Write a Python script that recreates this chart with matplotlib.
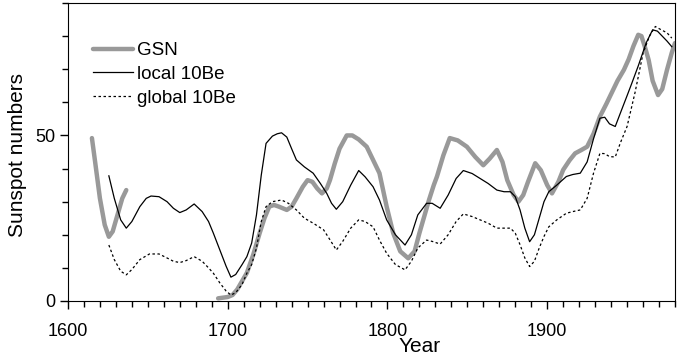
import matplotlib.pyplot as plt
from matplotlib.ticker import MultipleLocator

plt.rcParams['font.family'] = ['Liberation Sans', 'DejaVu Sans']

# GSN (group sunspot number), two segments with a gap
gsn_year_a = [1615, 1617, 1620, 1623, 1625.6, 1628, 1631, 1634, 1636.5]
gsn_val_a = [49.2, 42, 31, 23, 19.4, 21, 26, 31, 33.5]
gsn_year_b = [1694, 1700, 1703, 1706, 1709, 1712, 1716, 1720, 1723, 1726, 1729, 1732,
              1737, 1740, 1743, 1747, 1750, 1753, 1756, 1759, 1762, 1764, 1767, 1770,
              1774.5, 1778, 1782, 1787, 1791, 1795, 1799.5, 1803.6, 1808, 1813, 1817,
              1820, 1823, 1826, 1829, 1831, 1835, 1839, 1844, 1849.7, 1855, 1860,
              1864, 1868.5, 1872, 1875, 1879, 1882, 1885, 1888, 1892.5, 1896, 1900,
              1903, 1907, 1910, 1914, 1917.5, 1921, 1925, 1929, 1933, 1937, 1940, 1944,
              1948, 1951, 1954, 1957, 1959, 1961, 1963.5, 1966, 1969.4, 1972, 1975,
              1978, 1980]
gsn_val_b = [0.8, 1.2, 1.8, 3.5, 6, 8.5, 14, 20.5, 25, 28.5, 29, 28.5,
             27.5, 28.5, 31, 34.5, 36.5, 36, 34, 32.5, 34, 36.5, 41.5, 46,
             50, 50, 48.8, 46.6, 42.6, 38.6, 28.5, 20.5, 15, 12.9, 15,
             20.5, 25.5, 30.5, 35, 37.6, 44, 49.2, 48.5, 46.6, 43.5, 41,
             43, 45.6, 42, 36.5, 32, 30, 32, 36, 41.6, 39.5, 35,
             32.5, 36, 39.6, 42.5, 44.6, 45.5, 46.6, 50.5, 55.7, 59.5, 62.5, 66.5,
             69.8, 73, 77, 80.4, 80, 77, 72.8, 66.5, 62.2, 64, 69.8,
             75, 77.9]

# local 10Be reconstruction
local_year = [1625.6, 1629, 1633, 1636.5, 1640, 1645, 1649, 1652, 1657, 1662, 1666,
              1670, 1674, 1679, 1684, 1688, 1691, 1695, 1699, 1702, 1705, 1709,
              1712, 1715, 1718, 1721, 1724, 1728, 1731, 1733.7, 1737, 1740, 1743,
              1748, 1753.5, 1758, 1762, 1765, 1768, 1772, 1777, 1782, 1786, 1791,
              1795, 1799.5, 1805, 1811, 1815, 1819, 1824.5, 1828, 1833, 1838, 1843,
              1847.5, 1853, 1858, 1863, 1868.5, 1873, 1877, 1880, 1883, 1886, 1889,
              1892, 1895, 1898, 1901, 1906, 1912, 1916, 1920.7, 1925, 1929, 1933,
              1936, 1939, 1942.6, 1946, 1950, 1953, 1957, 1962, 1966, 1969, 1972,
              1975, 1978]
local_val = [37.8, 31, 24.5, 22, 24, 28.5, 31, 31.7, 31.5, 30, 28,
             26.7, 27.5, 29.3, 27, 24, 20.5, 15.5, 10.5, 7.2, 8, 11,
             13.4, 17.5, 26, 38, 47.6, 49.8, 50.5, 50.8, 49.5, 46, 42.6,
             40.5, 38.6, 35.5, 32.5, 29.5, 27.7, 30, 35, 39.4, 37.5, 34.5,
             30.5, 24.5, 20, 16.9, 20, 26, 29.5, 29.5, 28, 32, 37,
             39.4, 38.5, 37, 35.5, 33.5, 33, 33, 31.5, 27.5, 22, 17.9,
             20, 25, 30, 33, 35, 37.6, 38.2, 38.6, 42, 49, 55.2,
             55.5, 53.5, 52.7, 57, 62, 65.8, 71, 78, 81.9, 81.5, 80,
             78.5, 76.8]

# global 10Be reconstruction
global_year = [1625.6, 1629, 1633, 1636.5, 1640, 1645, 1651, 1657, 1662, 1666, 1670,
               1674, 1679, 1684, 1688, 1691, 1695, 1699, 1702, 1705, 1709, 1712,
               1715, 1718, 1721, 1724, 1728, 1733.7, 1738, 1743, 1748, 1753.5, 1760,
               1764, 1768, 1772, 1777, 1782, 1786, 1791, 1795, 1799.5, 1805, 1811,
               1815, 1819, 1824.5, 1828, 1833, 1838, 1843, 1847.5, 1853, 1858, 1863,
               1868.5, 1873, 1877, 1880, 1883, 1886, 1889, 1892, 1895, 1898, 1901,
               1906, 1912, 1916, 1920.7, 1925, 1929, 1933, 1936, 1939, 1942.6, 1946,
               1950, 1955, 1960, 1964, 1967.7, 1971, 1975, 1978]
global_val = [16.9, 12.5, 9, 7.9, 9.5, 12.5, 14.2, 14.2, 13, 12, 11.6,
              12.2, 13.4, 12, 10, 8.4, 5.5, 3, 1.8, 2.5, 5, 8.4,
              11, 16, 24, 28.5, 30, 30.5, 29.5, 27.5, 25, 23.5, 21.5,
              18.5, 15.4, 18, 22, 24.5, 24, 22.4, 18.4, 14.4, 11, 9.4,
              12, 16, 18.4, 18, 17.2, 20, 24, 26.3, 25.5, 24.5, 23.5,
              22, 22, 22, 20.5, 17, 13, 10.4, 12, 16, 19.5, 22.4,
              24.5, 26.5, 27, 27.5, 31, 38.6, 44.6, 44.5, 43.6, 43.5, 48,
              52.7, 63, 74.8, 80, 82.9, 82, 81, 79.4]

fig = plt.figure(figsize=(6.79, 3.57), dpi=100)
ax = fig.add_axes([0.1001, 0.1569, 0.8940, 0.8347])

gray = '#999999'
ax.plot(gsn_year_a, gsn_val_a, color=gray, lw=3.2, solid_capstyle='round',
        solid_joinstyle='round', label='GSN')
ax.plot(gsn_year_b, gsn_val_b, color=gray, lw=3.2, solid_capstyle='round',
        solid_joinstyle='round')
ax.plot(local_year, local_val, color='black', lw=0.9, label='local 10Be')
ax.plot(global_year, global_val, color='black', lw=0.9, linestyle=(0, (2, 2)),
        label='global 10Be')

ax.set_xlim(1600, 1980)
ax.set_ylim(0, 90)
ax.xaxis.set_major_locator(MultipleLocator(100))
ax.xaxis.set_minor_locator(MultipleLocator(10))
ax.yaxis.set_major_locator(MultipleLocator(50))
ax.yaxis.set_minor_locator(MultipleLocator(10))
ax.tick_params(which='major', direction='out', length=6, width=1, labelsize=13, pad=10)
ax.tick_params(which='minor', direction='out', length=4, width=1)
ax.tick_params(axis='y', which='major', pad=3)

ax.set_xlabel('Year', fontsize=15)
ax.xaxis.set_label_coords(0.58, -0.12)
ax.set_ylabel('Sunspot numbers', fontsize=15)
ax.yaxis.set_label_coords(-0.068, 0.49)

ax.legend(loc='upper left', frameon=False, fontsize=13.5, handlelength=2.1,
          handletextpad=0.25, labelspacing=0.35, bbox_to_anchor=(0.014, 0.925))

plt.savefig('out.png', dpi=100)
